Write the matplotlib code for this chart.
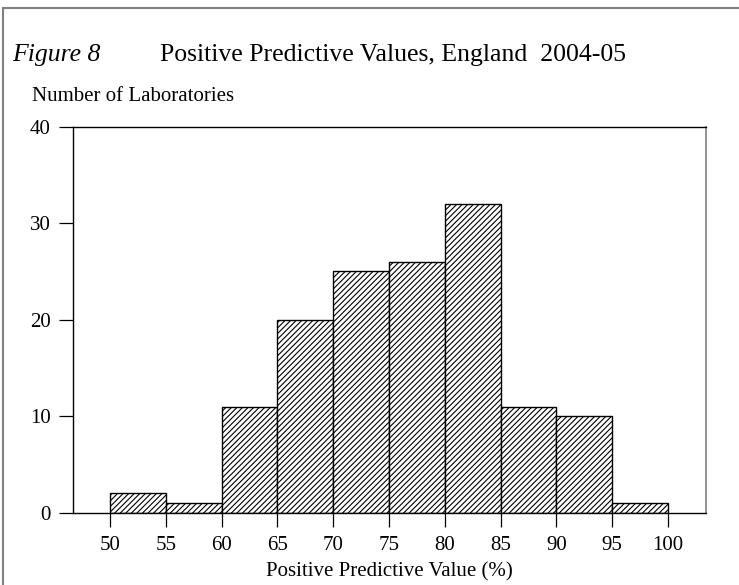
import matplotlib.pyplot as plt
from matplotlib.lines import Line2D

plt.rcParams['font.family'] = ['Liberation Serif', 'DejaVu Serif']
plt.rcParams['hatch.linewidth'] = 0.8

# Данные гистограммы
bin_left = [50, 55, 60, 65, 70, 75, 80, 85, 90, 95]
counts = [2, 1, 11, 20, 25, 26, 32, 11, 10, 1]
xticks = [50, 55, 60, 65, 70, 75, 80, 85, 90, 95, 100]
yticks = [0, 10, 20, 30, 40]

fig = plt.figure(figsize=(7.39, 5.85), dpi=100)
ax = fig.add_axes([72.7 / 739, 1 - 512.7 / 585, (706 - 72.7) / 739, (512.7 - 126.7) / 585])

ax.bar(bin_left, counts, width=5, align='edge', color='white',
       edgecolor='black', linewidth=1.0, hatch='//////')

ax.set_xlim(46.65, 103.4)
ax.set_ylim(0, 40)
ax.set_xticks(xticks)
ax.set_yticks(yticks)
ax.tick_params(axis='both', direction='out', length=10, width=0.9, labelsize=15, pad=6)
ax.tick_params(axis='x', pad=7)
for s in ['left', 'bottom', 'top']:
    ax.spines[s].set_linewidth(1.0)
ax.spines['right'].set_color('#808080')
ax.spines['right'].set_linewidth(1.2)

ax.set_xlabel('Positive Predictive Value (%)', fontsize=15, labelpad=5)

fig.text(12 / 739, 1 - 61 / 585, 'Figure 8', fontsize=18.5, style='italic', va='baseline')
fig.text(160 / 739, 1 - 61 / 585, 'Positive Predictive Values, England  2004-05', fontsize=18.5, va='baseline')
fig.text(32 / 739, 1 - 101 / 585, 'Number of Laboratories', fontsize=15, va='baseline')

# рамка рисунка (верх и лево)
fig.add_artist(Line2D([3 / 739, 1], [1 - 8 / 585, 1 - 8 / 585], transform=fig.transFigure, color='#808080', lw=1.5))
fig.add_artist(Line2D([3 / 739, 3 / 739], [0, 1 - 8 / 585], transform=fig.transFigure, color='#808080', lw=1.5))

fig.savefig('out.png', dpi=100)
